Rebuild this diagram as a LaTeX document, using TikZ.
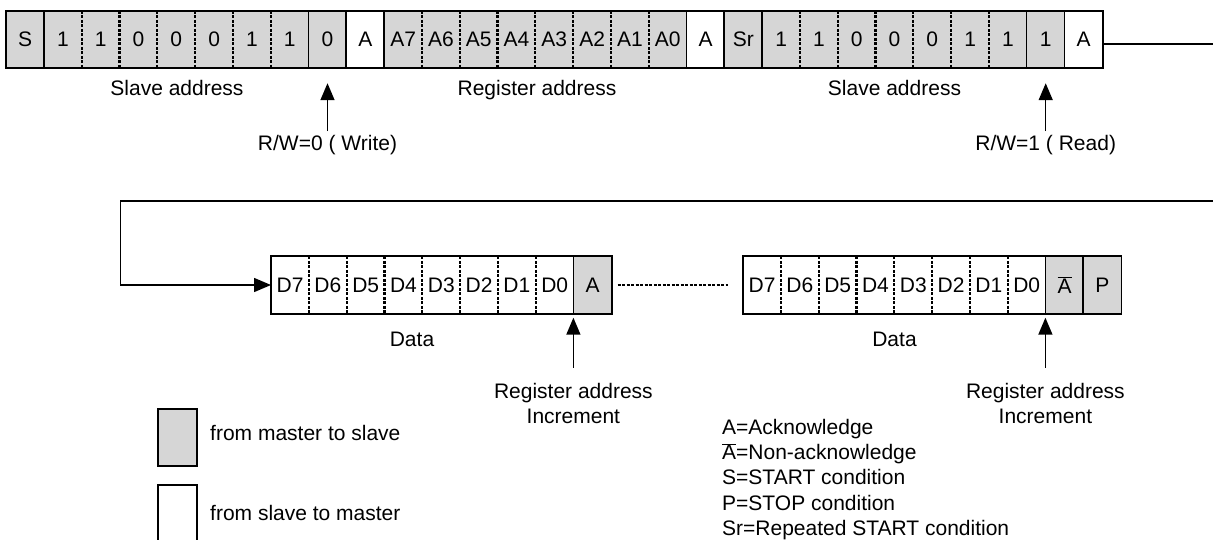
\documentclass[tikz,border=0pt]{standalone}
\usepackage{fontspec}
\setmainfont{Liberation Sans}
\usetikzlibrary{arrows.meta,positioning}
\definecolor{mst}{gray}{0.84}
\colorlet{slv}{white}
\tikzset{
  bitcell/.style={anchor=west,minimum width=37.8pt,minimum height=57pt,inner sep=0pt},
  div s/.style={line width=1.6pt},
  div d/.style={line width=2.2pt,dash pattern=on 3pt off 1.5pt},
  div n/.style={draw=none},
  frame/.style={line width=1.8pt},
  tip/.style={-{Triangle[length=17pt,width=14pt]},line width=1.5pt},
  gap/.style={line width=1.6pt,dash pattern=on 3pt off 1.5pt},
  lbl/.style={inner sep=0pt}
}
\begin{document}
\begin{tikzpicture}[x=1pt,y=-1pt,font=\fontsize{21}{25.3}\selectfont]
\useasboundingbox (0,0) rectangle (1213,539);
% write slave address, register address, read slave address
\foreach \txt/\fil/\dv [count=\i from 0] in {S/mst/n,1/mst/s,1/mst/d,0/mst/d,0/mst/d,0/mst/d,1/mst/d,1/mst/d,0/mst/s,A/slv/s,
  A7/mst/s,A6/mst/d,A5/mst/d,A4/mst/d,A3/mst/d,A2/mst/d,A1/mst/d,A0/mst/d,A/slv/s,
  Sr/mst/s,1/mst/s,1/mst/d,0/mst/d,0/mst/d,0/mst/d,1/mst/d,1/mst/d,1/mst/s,A/slv/s}{
  \node[bitcell,fill=\fil] (t\i) at (6+37.8*\i,39.5) {\txt};
  \draw[div \dv] (t\i.north west) -- (t\i.south west);
}
\draw[frame] (t0.north west) rectangle (t28.south east);
\node[lbl,anchor=base] (sa1) at (177,95) {Slave address};
\node[lbl,anchor=base] (ra) at (537,95) {Register address};
\node[lbl,anchor=base] (sa2) at (894.5,95) {Slave address};
\node[lbl,below=67pt of t8.south] (rw0) {R/W=0 ( Write)};
\node[lbl,below=67pt of t27.south] (rw1) {R/W=1 ( Read)};
\draw[tip,shorten >=15pt] ([yshift=4pt]rw0.north) -- (t8.south);
\draw[tip,shorten >=15pt] ([yshift=4pt]rw1.north) -- (t27.south);
% data bytes
\foreach \txt/\fil/\dv [count=\i from 0] in {D7/slv/n,D6/slv/d,D5/slv/d,D4/slv/d,D3/slv/d,D2/slv/d,D1/slv/d,D0/slv/d,A/mst/s}{
  \node[bitcell,fill=\fil] (d\i) at (271+37.8*\i,285) {\txt};
  \draw[div \dv] (d\i.north west) -- (d\i.south west);
}
\draw[frame] (d0.north west) rectangle (d8.south east);
\foreach \txt/\fil/\dv [count=\i from 0] in {D7/slv/n,D6/slv/d,D5/slv/d,D4/slv/d,D3/slv/d,D2/slv/d,D1/slv/d,D0/slv/d,{$\overline{\hbox{A}}$}/mst/s,P/mst/s}{
  \node[bitcell,fill=\fil] (e\i) at (743+37.8*\i,285) {\txt};
  \draw[div \dv] (e\i.north west) -- (e\i.south west);
}
\draw[frame] (e0.north west) rectangle (e9.south east);
\draw[gap] ([xshift=6pt]d8.east) -- ([xshift=-15pt]e0.west);
\node[lbl,anchor=base] (data1) at (412,346) {Data};
\node[lbl,anchor=base] (data2) at (894.5,346) {Data};
\node[lbl,align=center,below=69pt of d8.south west] (inc1) {Register address\\Increment};
\node[lbl,align=center,below=69pt of e8.south west] (inc2) {Register address\\Increment};
\draw[tip,shorten >=4pt] ([yshift=15pt]inc1.north) -- (d8.south west);
\draw[tip,shorten >=4pt] ([yshift=15pt]inc2.north) -- (e8.south west);
% wrap-around from first frame to data
\coordinate (ur) at (1216,201);
\coordinate (ul) at (120.7,201);
\draw[tip] ([yshift=-4.5pt]t28.east) -| (ur) -- (ul) |- (d0.west);
% key
\node[draw,frame,fill=mst,minimum width=39pt,minimum height=57pt,anchor=north west] (keym) at (157,408) {};
\node[draw,frame,fill=slv,minimum width=39pt,minimum height=62pt,anchor=north west] (keys) at (157,484) {};
\node[lbl,anchor=west] (keymtxt) at (210,433) {from master to slave};
\node[lbl,anchor=west] (keystxt) at (210,513) {from slave to master};
\node[lbl,anchor=west,align=left] (abbr) at (722,479.5) {A=Acknowledge\\$\overline{\hbox{A}}$=Non-acknowledge\\S=START condition\\P=STOP condition\\Sr=Repeated START condition};
\end{tikzpicture}
\end{document}
